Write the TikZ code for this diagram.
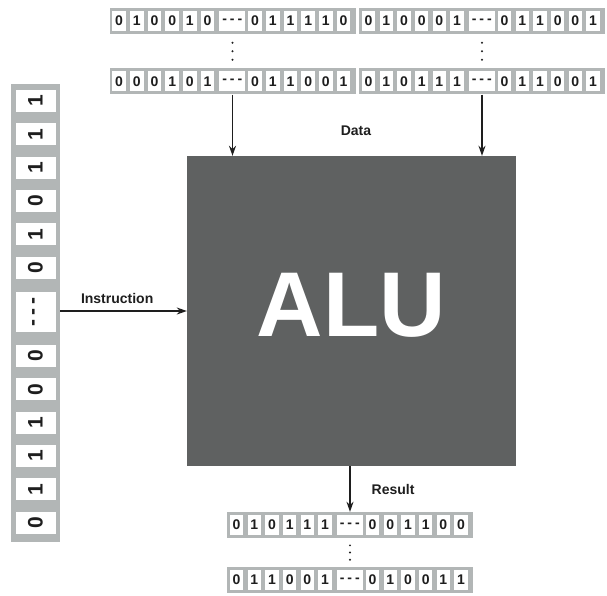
\documentclass[tikz,border=0pt]{standalone}
\usepackage{fontspec}
\setmainfont{Liberation Sans}
\usetikzlibrary{positioning,calc,arrows.meta}
\definecolor{regfill}{HTML}{B2B6B6}
\definecolor{alufill}{HTML}{5F6161}
\definecolor{ink}{HTML}{1E1E1E}

% one data word: name, centre, first six bits, last six bits
\newcommand{\wordrow}[4]{%
  \node[reg] (#1) at (#2) {};
  \foreach \b [count=\i from 0] in {#3}
    \node[bit] (#1-l\i) at ($(#1.west)+(9.75+17.7*\i,0)$) {\b};
  \node[bit, minimum width=26pt] (#1-gap) at ($(#1.west)+(123,0)$) {-\hspace{3pt}-\hspace{3pt}-};
  \foreach \b [count=\i from 0] in {#4}
    \node[bit] (#1-r\i) at ($(#1.west)+(145.75+17.7*\i,0)$) {\b};
}

\begin{document}
\begin{tikzpicture}[x=1pt, y=-1pt,
  every node/.style={font=\fontsize{14}{16}\selectfont\bfseries, text=ink},
  reg/.style={fill=regfill, minimum width=246pt, minimum height=26pt, inner sep=0pt},
  bit/.style={fill=white, minimum width=13.5pt, minimum height=20pt, inner sep=0pt,
              font=\fontsize{14}{15}\selectfont\bfseries},
  vbit/.style={bit, rotate=90, minimum width=22pt, minimum height=40pt,
               font=\fontsize{21}{23}\selectfont\bfseries},
  alu/.style={fill=alufill, minimum width=329pt, minimum height=310pt, inner sep=0pt,
              text depth=12pt, text=white, font=\fontsize{92}{96}\selectfont\bfseries},
  arr/.style={draw=ink, line width=1.3pt, -{Stealth[length=10pt,width=7pt]}},
  lbl/.style={font=\fontsize{14}{16}\selectfont\bfseries, inner sep=1pt}
]
  \useasboundingbox (0,0) rectangle (607,596);

  \node[alu] (alu) at (351.5,311) {ALU};

  % data words
  \wordrow{dl1}{232.5,21}{0,1,0,0,1,0}{0,1,1,1,1,0}
  \wordrow{dl2}{232.5,81.5}{0,0,0,1,0,1}{0,1,1,0,0,1}
  \wordrow{dr1}{482,21}{0,1,0,0,0,1}{0,1,1,0,0,1}
  \wordrow{dr2}{482,81.5}{0,1,0,1,1,1}{0,1,1,0,0,1}
  % result words
  \wordrow{rs1}{350,525}{0,1,0,1,1,1}{0,0,1,1,0,0}
  \wordrow{rs2}{350,580}{0,1,1,0,0,1}{0,1,0,0,1,1}

  \foreach \w in {dl,dr,rs}
    \foreach \k in {1,2,3}
      \fill[ink] ($(\w1.south)!\k/4!(\w2.north)$) circle (1.1pt);

  % instruction word
  \node[reg, minimum width=49pt, minimum height=458pt] (ins) at (35.5,313) {};
  \foreach \b [count=\i from 0] in {1,1,1,0,1,0}
    \node[vbit] (ins-t\i) at ($(ins.north)+(0,17+33.4*\i)$) {\b};
  \node[vbit, minimum width=40pt] (ins-gap) at ($(ins.north)+(0,228)$) {-\hspace{4pt}-\hspace{4pt}-};
  \foreach \b [count=\i from 0] in {0,0,1,1,1,0}
    \node[vbit] (ins-b\i) at ($(ins.north)+(0,272+33.4*\i)$) {\b};

  \draw[arr] (dl2.south) -- (dl2.south |- alu.north);
  \draw[arr] (dr2.south) -- (dr2.south |- alu.north);
  \node[lbl] (datalbl) at (356,131) {Data};
  \draw[arr] (ins.east |- alu.west) -- node[lbl, above=6pt, pos=0.45] (inslbl) {Instruction} (alu.west);
  \draw[arr] (alu.south -| rs1.north) -- node[lbl, right=20pt] (reslbl) {Result} (rs1.north);
\end{tikzpicture}
\end{document}
